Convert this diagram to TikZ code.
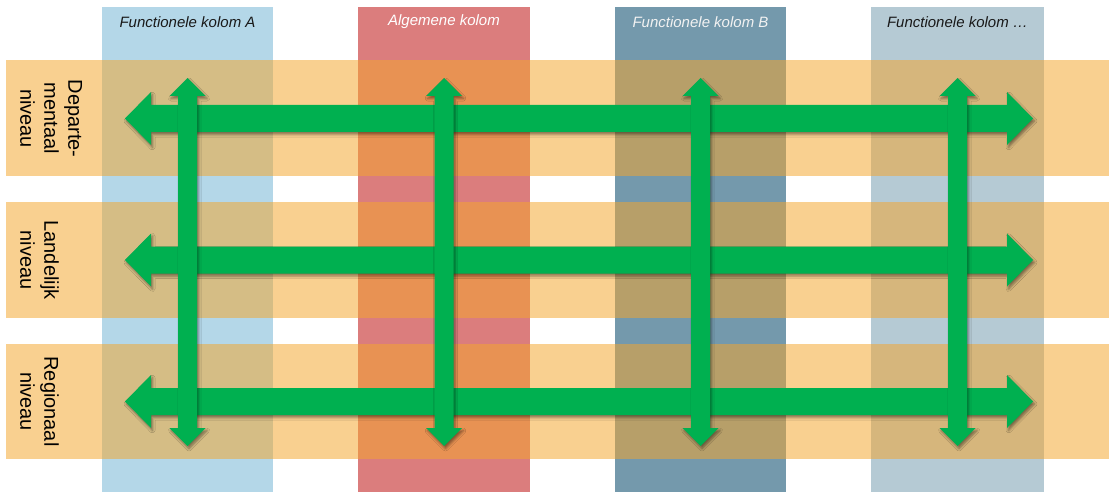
\documentclass[tikz,border=0pt]{standalone}
\usepackage{fontspec}
\setmainfont{Liberation Sans}
\usetikzlibrary{shadows.blur}

\definecolor{kolA}{RGB}{180,215,232}
\definecolor{kolAlg}{RGB}{219,125,125}
\definecolor{kolB}{RGB}{116,153,172}
\definecolor{kolD}{RGB}{181,202,212}
\definecolor{niveauband}{RGB}{244,166,46}
\definecolor{pijlgroen}{RGB}{0,176,80}

\tikzset{
  kolom/.style={fill=#1, draw=none},
  band/.style={fill=niveauband, fill opacity=0.53, draw=none},
  pijl/.style={fill=pijlgroen, draw=none,
    blur shadow={shadow xshift=1.5pt, shadow yshift=-2.5pt,
                 shadow blur radius=2.5pt, shadow opacity=45}},
  kolomlabel/.style={font=\itshape\fontsize{15}{18}\selectfont, inner sep=0pt},
  niveaulabel/.style={font=\fontsize{20}{24}\selectfont, align=center,
    rotate=-90, anchor=south, inner sep=0pt}
}

% horizontal double block arrow at height #1
\newcommand{\horpijl}[1]{%
  \path[pijl] (125,#1) -- (151,#1-26.5) -- (151,#1-13.5) -- (1007,#1-13.5)
    -- (1007,#1-26.5) -- (1033,#1) -- (1007,#1+26.5) -- (1007,#1+13.5)
    -- (151,#1+13.5) -- (151,#1+26.5) -- cycle;}
% vertical double block arrow at column centre #1
\newcommand{\verpijl}[1]{%
  \path[pijl] (#1,78) -- (#1+18,96) -- (#1+9.5,96) -- (#1+9.5,428)
    -- (#1+18,428) -- (#1,446) -- (#1-18,428) -- (#1-9.5,428)
    -- (#1-9.5,96) -- (#1-18,96) -- cycle;}

\begin{document}
\begin{tikzpicture}[x=1pt, y=-1pt]
\useasboundingbox (0,0) rectangle (1109,492);

% columns
\fill[kolom=kolA]   (102,7) rectangle (273,492);
\fill[kolom=kolAlg] (358,7) rectangle (530,492);
\fill[kolom=kolB]   (615,7) rectangle (786,492);
\fill[kolom=kolD]   (871,7) rectangle (1044,492);

% levels
\fill[band] (6,60)  rectangle (1109,176);
\fill[band] (6,202) rectangle (1109,318);
\fill[band] (6,344) rectangle (1109,459);

% horizontal arrows
\horpijl{118.5}
\horpijl{260}
\horpijl{401.5}

% vertical arrows
\verpijl{187.5}
\verpijl{444}
\verpijl{700.5}
\verpijl{957.5}

% column headings
\node[kolomlabel, text=black!90] (kA)   at (187.5,22) {Functionele kolom A};
\node[kolomlabel, text=white]    (kAlg) at (444,22)   {Algemene kolom};
\node[kolomlabel, text=white!95!black] (kB) at (700.5,22) {Functionele kolom B};
\node[kolomlabel, text=black!90] (kD)   at (957.5,22) {Functionele kolom \dots};

% level labels
\node[niveaulabel] (nDep) at (20,118.5) {Departe-\\mentaal\\niveau};
\node[niveaulabel] (nLan) at (20,260)   {Landelijk\\niveau};
\node[niveaulabel] (nReg) at (20,401.5) {Regionaal\\niveau};
\end{tikzpicture}
\end{document}
